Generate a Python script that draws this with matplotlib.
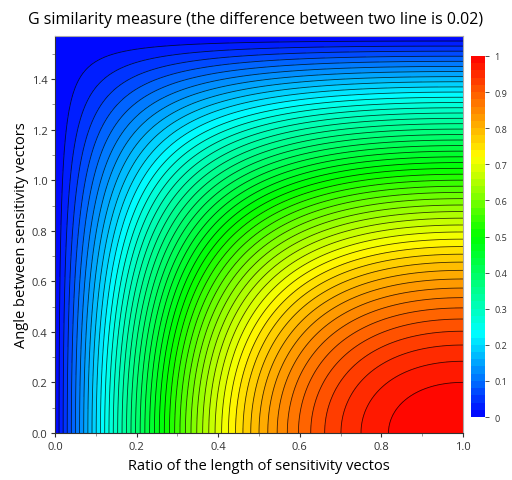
import numpy as np
import matplotlib
matplotlib.use("Agg")
import matplotlib.pyplot as plt
from matplotlib.colors import LinearSegmentedColormap
from matplotlib.ticker import MultipleLocator

plt.rcParams["font.family"] = ["Open Sans", "DejaVu Sans"]

# axes of the field: ratio of lengths and angle between vectors
ratio = np.linspace(0.0, 1.0, 401)
angle = np.linspace(0.0, np.pi / 2, 401)

# contour levels, 0.02 apart
levels = np.arange(0.0, 1.0001, 0.02)
cbar_ticks = [0, 0.1, 0.2, 0.3, 0.4, 0.5, 0.6, 0.7, 0.8, 0.9, 1]
cbar_labels = ["0", "0.1", "0.2", "0.3", "0.4", "0.5", "0.6", "0.7", "0.8", "0.9", "1"]

# G similarity measure
R, A = np.meshgrid(ratio, angle)
G = 2 * R * np.cos(A) / (1 + R ** 2)

cmap = LinearSegmentedColormap.from_list(
    "g_map",
    [(0.0, "#0000ff"), (0.23, "#00ffff"), (0.5, "#00ff00"),
     (0.72, "#ffff00"), (1.0, "#ff0000")],
)

fig = plt.figure(figsize=(5.12, 4.81), dpi=100)
ax = fig.add_axes([55 / 512, 1 - 434 / 481, 408 / 512, 397 / 481])
cax = fig.add_axes([471 / 512, 1 - 418 / 481, 14 / 512, 361 / 481])

cf = ax.contourf(R, A, G, levels=levels, cmap=cmap, vmin=0, vmax=1)
ax.contour(R, A, G, levels=levels[1:-1], colors="black", linewidths=0.6, alpha=0.75)

ax.set_xlim(0, 1)
ax.set_ylim(0, np.pi / 2)
ax.xaxis.set_major_locator(MultipleLocator(0.2))
ax.xaxis.set_minor_locator(MultipleLocator(0.1))
ax.yaxis.set_major_locator(MultipleLocator(0.2))
ax.yaxis.set_minor_locator(MultipleLocator(0.1))
ax.xaxis.set_major_formatter(lambda v, p: f"{v:.1f}")
ax.yaxis.set_major_formatter(lambda v, p: f"{v:.1f}")
ax.tick_params(which="major", direction="out", length=3, width=0.8, pad=2.5,
               labelsize=8, colors="#333333")
ax.tick_params(which="minor", direction="out", length=2, width=0.6, colors="#888888")
for side in ["top", "right"]:
    ax.spines[side].set_color("#aaaaaa")
for side in ["left", "bottom"]:
    ax.spines[side].set_color("#333333")

ax.set_xlabel("Ratio of the length of sensitivity vectos", fontsize=10.5, va="center")
ax.set_ylabel("Angle between sensitivity vectors", fontsize=10.5, va="center")
ax.xaxis.set_label_coords(0.5, (434 - 467) / 397)
ax.yaxis.set_label_coords((22 - 55) / 408, 0.5)
fig.text(0.5, 1 - 20 / 481, "G similarity measure (the difference between two line is 0.02)",
         ha="center", va="center", fontsize=11.5)

cb = fig.colorbar(cf, cax=cax, ticks=cbar_ticks)
cb.ax.set_yticklabels(cbar_labels)
cb.ax.tick_params(labelsize=6.5, length=3, width=0.6, colors="#333333")
cb.outline.set_visible(False)

fig.savefig("out.png", dpi=100)
